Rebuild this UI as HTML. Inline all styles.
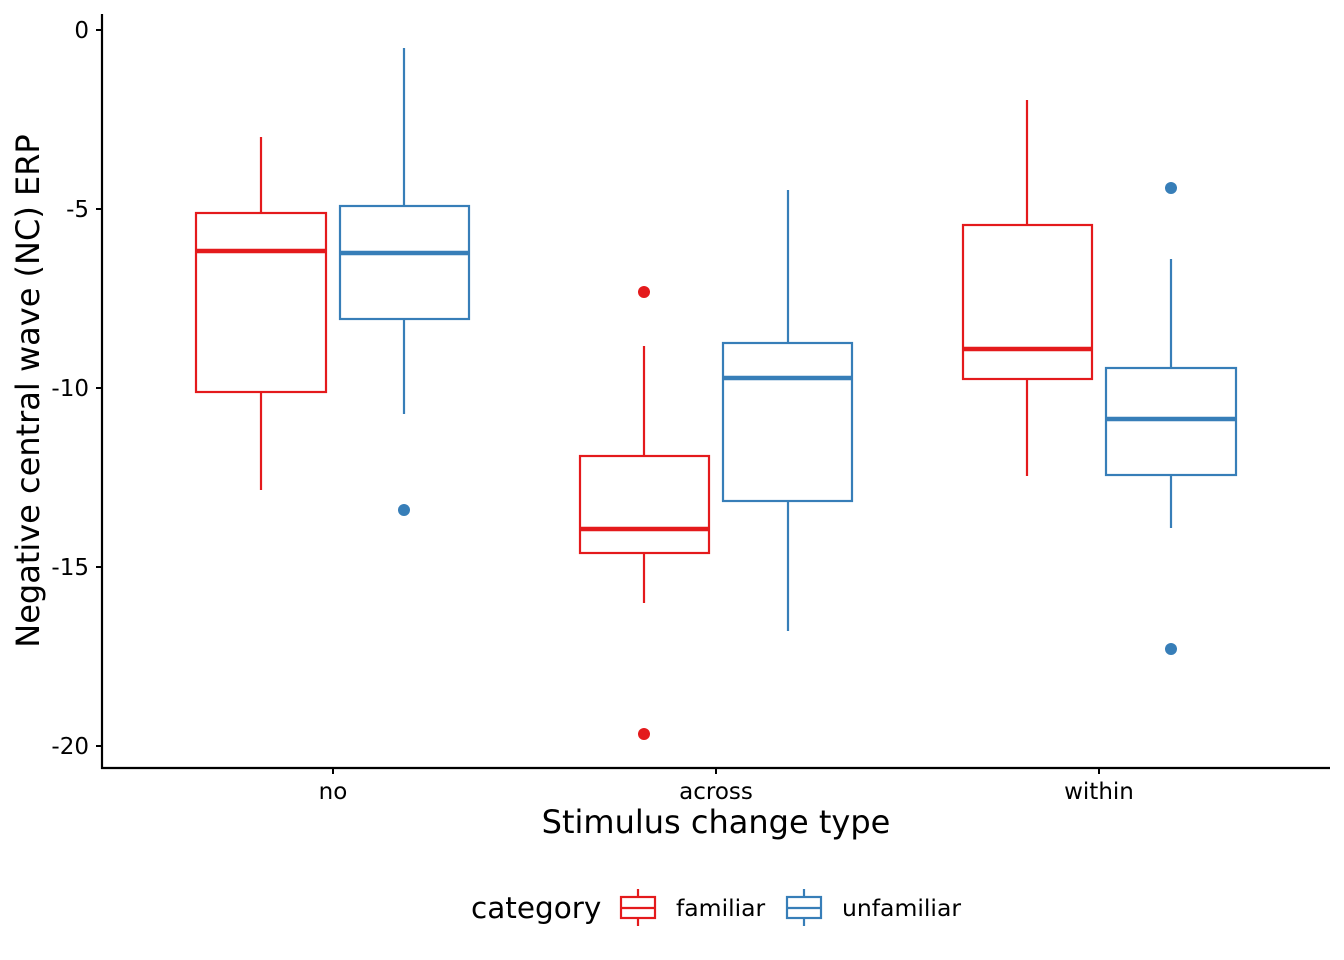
<!DOCTYPE html>
<html><head><meta charset="utf-8"><style>
html,body{margin:0;padding:0;background:#fff;}
svg{display:block;font-family:"DejaVu Sans","Liberation Sans",sans-serif;}
</style></head><body>
<svg width="1344" height="960" viewBox="0 0 1344 960" xmlns="http://www.w3.org/2000/svg">
<rect width="1344" height="960" fill="#fff"/>
<line x1="102" y1="14" x2="102" y2="769" stroke="#000" stroke-width="2.2"/>
<line x1="101" y1="768" x2="1330" y2="768" stroke="#000" stroke-width="2.2"/>
<g stroke="#000" stroke-width="2">
<line x1="96" y1="30" x2="102" y2="30"/><line x1="96" y1="209" x2="102" y2="209"/>
<line x1="96" y1="388" x2="102" y2="388"/><line x1="96" y1="567" x2="102" y2="567"/>
<line x1="96" y1="746" x2="102" y2="746"/>
<line x1="333" y1="768" x2="333" y2="774"/><line x1="716" y1="768" x2="716" y2="774"/>
<line x1="1099" y1="768" x2="1099" y2="774"/>
</g>
<g font-size="23" fill="#000" text-anchor="end">
<text x="89" y="38">0</text><text x="89" y="217">-5</text><text x="89" y="396">-10</text>
<text x="89" y="575">-15</text><text x="89" y="754">-20</text>
</g>
<g font-size="23" fill="#000" text-anchor="middle">
<text x="333" y="799">no</text><text x="716" y="799">across</text><text x="1099" y="799">within</text>
</g>
<text x="716" y="833" font-size="32" text-anchor="middle">Stimulus change type</text>
<text transform="translate(39,391) rotate(-90)" font-size="32" text-anchor="middle">Negative central wave (NC) ERP</text>

<g fill="none" stroke-width="2.2">
<g stroke="#E41A1C">
<line x1="261" y1="137" x2="261" y2="213"/><line x1="261" y1="392" x2="261" y2="490"/>
<rect x="196" y="213" width="130" height="179" fill="#fff"/>
<line x1="196" y1="251" x2="326" y2="251" stroke-width="4.5"/>
</g>
<g stroke="#377EB8">
<line x1="404" y1="48" x2="404" y2="206"/><line x1="404" y1="319" x2="404" y2="414"/>
<rect x="340" y="206" width="129" height="113" fill="#fff"/>
<line x1="340" y1="253" x2="469" y2="253" stroke-width="4.5"/>
</g>
<g stroke="#E41A1C">
<line x1="644" y1="346" x2="644" y2="456"/><line x1="644" y1="553" x2="644" y2="603"/>
<rect x="580" y="456" width="129" height="97" fill="#fff"/>
<line x1="580" y1="529" x2="709" y2="529" stroke-width="4.5"/>
</g>
<g stroke="#377EB8">
<line x1="788" y1="190" x2="788" y2="343"/><line x1="788" y1="501" x2="788" y2="631"/>
<rect x="723" y="343" width="129" height="158" fill="#fff"/>
<line x1="723" y1="378" x2="852" y2="378" stroke-width="4.5"/>
</g>
<g stroke="#E41A1C">
<line x1="1027" y1="100" x2="1027" y2="225"/><line x1="1027" y1="379" x2="1027" y2="476"/>
<rect x="963" y="225" width="129" height="154" fill="#fff"/>
<line x1="963" y1="349" x2="1092" y2="349" stroke-width="4.5"/>
</g>
<g stroke="#377EB8">
<line x1="1171" y1="259" x2="1171" y2="368"/><line x1="1171" y1="475" x2="1171" y2="528"/>
<rect x="1106" y="368" width="130" height="107" fill="#fff"/>
<line x1="1106" y1="419" x2="1236" y2="419" stroke-width="4.5"/>
</g>
</g>
<g>
<circle cx="404" cy="510" r="6" fill="#377EB8"/>
<circle cx="644" cy="292" r="6" fill="#E41A1C"/>
<circle cx="644" cy="734" r="6" fill="#E41A1C"/>
<circle cx="1171" cy="188" r="6" fill="#377EB8"/>
<circle cx="1171" cy="649" r="6" fill="#377EB8"/>
</g>

<text x="471" y="918" font-size="29.5">category</text>
<g fill="none" stroke-width="2.2">
<g stroke="#E41A1C">
<line x1="638" y1="889" x2="638" y2="926"/>
<rect x="621" y="897" width="34" height="21" fill="#fff"/>
<line x1="621" y1="908" x2="655" y2="908"/>
</g>
<g stroke="#377EB8">
<line x1="804" y1="889" x2="804" y2="926"/>
<rect x="787" y="897" width="34" height="21" fill="#fff"/>
<line x1="787" y1="908" x2="821" y2="908"/>
</g>
</g>
<text x="676" y="916" font-size="23.5">familiar</text>
<text x="842" y="916" font-size="23.5">unfamiliar</text>
</svg>
</body></html>
